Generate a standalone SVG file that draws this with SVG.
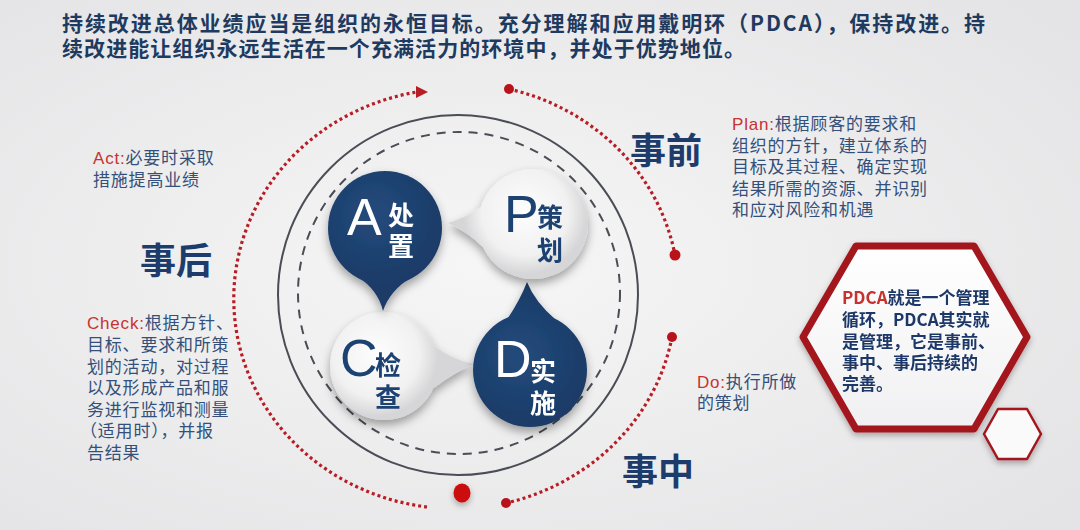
<svg xmlns="http://www.w3.org/2000/svg" width="1080" height="530" viewBox="0 0 1080 530">
<defs>
  <radialGradient id="bg" cx="0.45" cy="0.5" r="0.7">
    <stop offset="0" stop-color="#f6f6f6"/>
    <stop offset="1" stop-color="#e4e4e6"/>
  </radialGradient>
  <radialGradient id="navyA" gradientUnits="userSpaceOnUse" cx="375" cy="215" r="75">
    <stop offset="0" stop-color="#234b7c"/>
    <stop offset="1" stop-color="#1a3a66"/>
  </radialGradient>
  <radialGradient id="navyD" gradientUnits="userSpaceOnUse" cx="520" cy="355" r="75">
    <stop offset="0" stop-color="#234b7c"/>
    <stop offset="1" stop-color="#1a3a66"/>
  </radialGradient>
  <radialGradient id="lightP" gradientUnits="userSpaceOnUse" cx="525" cy="212" r="62">
    <stop offset="0" stop-color="#fdfdfd"/>
    <stop offset="0.7" stop-color="#f1f1f1"/>
    <stop offset="1" stop-color="#d6d6d8"/>
  </radialGradient>
  <radialGradient id="lightC" gradientUnits="userSpaceOnUse" cx="376" cy="354" r="62">
    <stop offset="0" stop-color="#fdfdfd"/>
    <stop offset="0.7" stop-color="#f1f1f1"/>
    <stop offset="1" stop-color="#d6d6d8"/>
  </radialGradient>
  <linearGradient id="hexFill" x1="0" y1="0" x2="0" y2="1">
    <stop offset="0" stop-color="#ffffff"/>
    <stop offset="1" stop-color="#f0f0f2"/>
  </linearGradient>
  <filter id="shadow" x="-30%" y="-30%" width="160%" height="170%">
    <feDropShadow dx="0" dy="5" stdDeviation="5" flood-color="#000" flood-opacity="0.35"/>
  </filter>
  <filter id="shadowSoft" x="-30%" y="-30%" width="160%" height="170%">
    <feDropShadow dx="0" dy="3" stdDeviation="3" flood-color="#000" flood-opacity="0.3"/>
  </filter>
  <style>
    .hdr{font-family:"Noto Sans CJK SC","Liberation Sans",sans-serif;font-weight:700;fill:#1f3a5f;font-size:21px;}
    .big{font-family:"Noto Sans CJK SC",sans-serif;font-weight:700;fill:#1d3c6c;font-size:36px;}
    .body{font-family:"Noto Sans CJK SC","Liberation Sans",sans-serif;fill:#34507a;font-size:17px;letter-spacing:0.8px;}
    .red{fill:#c8322f;}
    .hex{font-family:"Noto Sans CJK SC",sans-serif;font-weight:700;fill:#1e3868;font-size:17px;}
    .lat{font-family:"Liberation Sans","DejaVu Sans",sans-serif;font-size:52px;}
    .cjk{font-family:"Noto Sans CJK SC",sans-serif;font-weight:700;font-size:26px;}
    .dots{fill:none;stroke:#b81c24;stroke-width:3.2;stroke-dasharray:3 3;}
    .dot{fill:#b8121a;}
    .ring{fill:none;stroke:#4a4d55;stroke-width:2;}
  </style>
</defs>

<rect width="1080" height="530" fill="url(#bg)"/>

<!-- header -->
<g id="header">
  <text class="hdr" x="62" y="31" textLength="923" lengthAdjust="spacing">持续改进总体业绩应当是组织的永恒目标。充分理解和应用戴明环（PDCA），保持改进。持</text>
  <text class="hdr" x="62" y="56" textLength="683" lengthAdjust="spacing">续改进能让组织永远生活在一个充满活力的环境中，并处于优势地位。</text>
</g>

<!-- rings -->
<g id="rings">
  <circle class="ring" cx="458" cy="295" r="180"/>
  <circle class="ring" cx="459" cy="293" r="161" stroke-dasharray="9 7"/>
</g>

<!-- connectors: red dotted arcs -->
<g id="connectors">
  <path class="dots" d="M427,507 A222,210 0 0 1 417,92"/>
  <polygon points="416,86 428,92 416,98" fill="#b81c24"/>
  <path class="dots" d="M509,89 A222,210 0 0 1 675,255"/>
  <path class="dots" d="M672,337 A222,210 0 0 1 506,503"/>
  <circle class="dot" cx="509" cy="89" r="5"/>
  <circle class="dot" cx="675" cy="255" r="5.5"/>
  <circle class="dot" cx="672" cy="337" r="5"/>
  <circle class="dot" cx="506" cy="503" r="5"/>
  <ellipse cx="462" cy="493" rx="8.5" ry="9.5" fill="#cc0a0a" filter="url(#shadowSoft)"/>
</g>

<!-- C bubble -->
<g id="nodeC" filter="url(#shadow)">
  <path d="M433,345 Q452,360 474,364 Q455,372 434,388 Z" fill="url(#lightC)"/>
  <circle cx="384" cy="366" r="54" fill="url(#lightC)"/>
  <text class="lat" x="340" y="376" fill="#1e4272">C</text>
  <text class="cjk" x="375" y="375" fill="#1e4272">检</text>
  <text class="cjk" x="375" y="407" fill="#1e4272">查</text>
</g>

<!-- D bubble -->
<g id="nodeD" filter="url(#shadow)">
  <path d="M508,318 Q520,300 527,282 Q535,302 556,320 Z" fill="url(#navyD)"/>
  <circle cx="530" cy="370" r="57" fill="url(#navyD)"/>
  <text class="lat" x="494" y="377" fill="#ffffff">D</text>
  <text class="cjk" x="530" y="381" fill="#ffffff">实</text>
  <text class="cjk" x="530" y="413" fill="#ffffff">施</text>
</g>

<!-- A bubble -->
<g id="nodeA" filter="url(#shadow)">
  <path d="M358,277 Q378,290 383,311 Q390,290 412,277 Z" fill="url(#navyA)"/>
  <circle cx="385" cy="228" r="57" fill="url(#navyA)"/>
  <text class="lat" x="347" y="235" fill="#ffffff">A</text>
  <text class="cjk" x="388" y="225" fill="#ffffff">处</text>
  <text class="cjk" x="388" y="256" fill="#ffffff">置</text>
</g>

<!-- P bubble -->
<g id="nodeP" filter="url(#shadow)">
  <path d="M481,207 Q465,218 448,223 Q468,232 484,248 Z" fill="url(#lightP)"/>
  <circle cx="533" cy="224" r="55" fill="url(#lightP)"/>
  <text class="lat" x="504" y="232" fill="#1e4272">P</text>
  <text class="cjk" x="537" y="227" fill="#1e4272">策</text>
  <text class="cjk" x="537" y="260" fill="#1e4272">划</text>
</g>

<!-- phase labels -->
<g id="labels">
  <text class="big" x="630" y="164">事前</text>
  <text class="big" x="622" y="485">事中</text>
  <text class="big" x="140" y="274">事后</text>
</g>

<!-- Plan -->
<g id="textPlan">
  <text class="body" x="732" y="130"><tspan class="red" font-family="Liberation Sans">Plan:</tspan>根据顾客的要求和</text>
  <text class="body" x="732" y="151.5">组织的方针，建立体系的</text>
  <text class="body" x="732" y="173">目标及其过程、确定实现</text>
  <text class="body" x="732" y="194.5">结果所需的资源、并识别</text>
  <text class="body" x="732" y="216">和应对风险和机遇</text>
</g>

<!-- Act -->
<g id="textAct">
  <text class="body" x="93" y="164"><tspan class="red" font-family="Liberation Sans">Act:</tspan>必要时采取</text>
  <text class="body" x="93" y="186">措施提高业绩</text>
</g>

<!-- Check -->
<g id="textCheck">
  <text class="body" x="87" y="329"><tspan class="red" font-family="Liberation Sans">Check:</tspan>根据方针、</text>
  <text class="body" x="87" y="351">目标、要求和所策</text>
  <text class="body" x="87" y="372.5">划的活动，对过程</text>
  <text class="body" x="87" y="394">以及形成产品和服</text>
  <text class="body" x="87" y="415.5">务进行监视和测量</text>
  <text class="body" x="80" y="437">（适用时），并报</text>
  <text class="body" x="87" y="458.5">告结果</text>
</g>

<!-- Do -->
<g id="textDo">
  <text class="body" x="697" y="388"><tspan class="red" font-family="Liberation Sans">Do:</tspan>执行所做</text>
  <text class="body" x="697" y="409">的策划</text>
</g>

<!-- hexagons -->
<g id="hexBig" filter="url(#shadowSoft)">
  <polygon points="803,337 856,246 974,246 1027,337 974,429 856,429" fill="url(#hexFill)" stroke="#a3151e" stroke-width="7" stroke-linejoin="round"/>
  <text class="hex" x="842" y="304"><tspan class="red">PDCA</tspan>就是一个管理</text>
  <text class="hex" x="842" y="326">循环，PDCA其实就</text>
  <text class="hex" x="842" y="348">是管理，它是事前、</text>
  <text class="hex" x="842" y="369">事中、事后持续的</text>
  <text class="hex" x="842" y="390">完善。</text>
</g>
<g id="hexSmall" filter="url(#shadowSoft)">
  <polygon points="984,434 998,409 1027,409 1041,434 1027,459 998,459" fill="#fafafa" stroke="#a3151e" stroke-width="2.5" stroke-linejoin="round"/>
</g>
</svg>
